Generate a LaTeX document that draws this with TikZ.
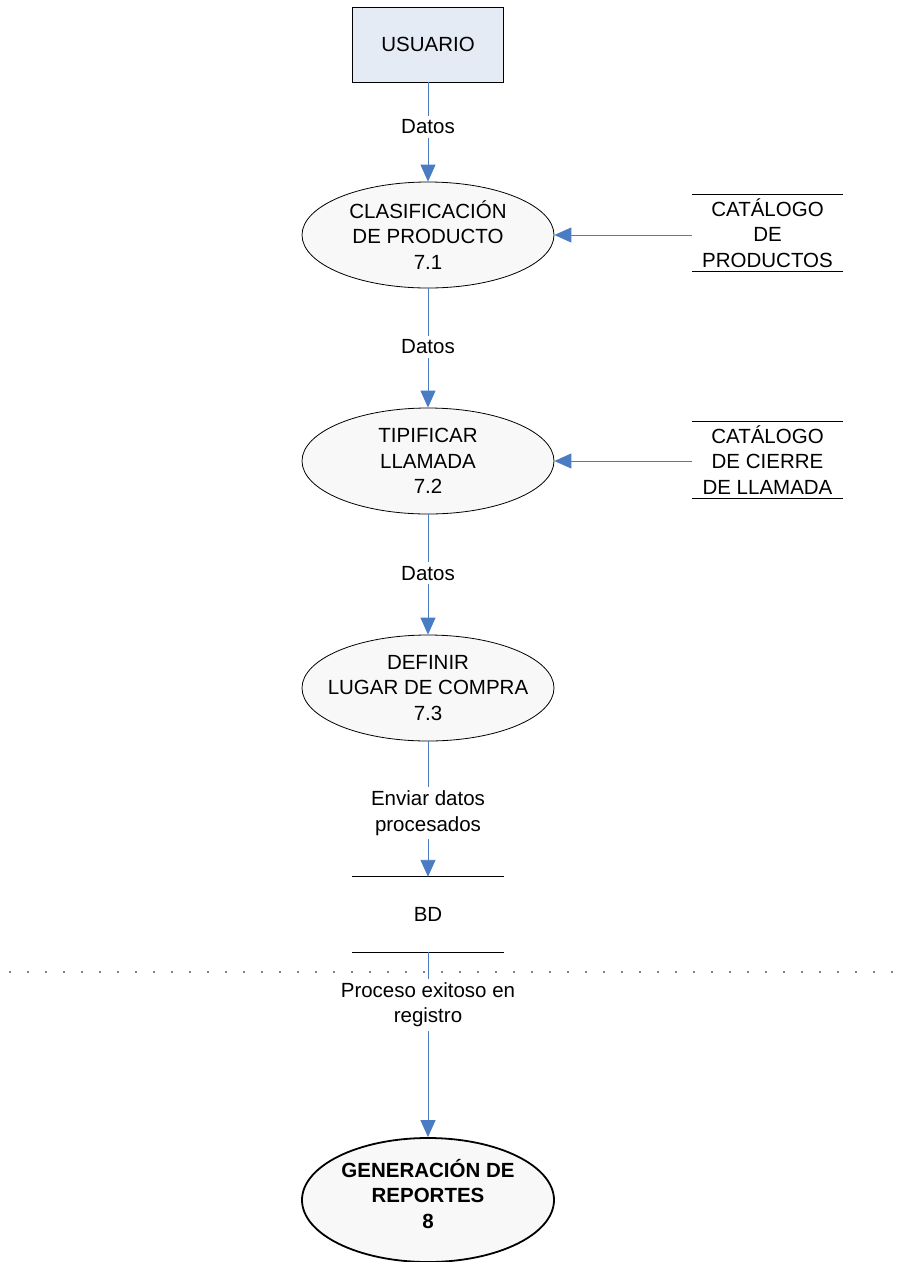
\documentclass[tikz,border=0pt]{standalone}
\usepackage{fontspec}
\setmainfont{Liberation Sans}
\usetikzlibrary{shapes.geometric,arrows.meta}
\definecolor{flowblue}{HTML}{4A7CC4}
\definecolor{boxblue}{HTML}{E5EBF5}
\definecolor{ellfill}{HTML}{F8F8F8}
\begin{document}
\begin{tikzpicture}[x=1pt,y=-1pt,
  every node/.style={font=\fontsize{20.5}{25.5}\selectfont},
  entity/.style={draw, fill=boxblue, minimum width=151pt, minimum height=75pt, inner sep=0pt, line width=0.8pt},
  proc/.style={ellipse, draw, fill=ellfill, minimum width=252pt, minimum height=106pt, inner sep=0pt, line width=0.8pt},
  ptext/.style={align=center, inner sep=0pt},
  store/.style={minimum width=151pt, minimum height=76pt, inner sep=0pt, align=center},
  flow/.style={draw=flowblue, line width=0.9pt, -{Triangle[width=15pt,length=17pt,fill=flowblue]}},
  lbl/.style={fill=white, inner sep=4pt, align=center, text=black},
  rule/.style={draw=black, line width=0.9pt}
]
\useasboundingbox (0,0) rectangle (897,1262);
\clip (0,0) rectangle (897,1262);

\node[entity] (u) at (428,44.5) {USUARIO};
\node[proc] (p1) at (428,235) {};
\node[ptext] (p1t) at (p1) {CLASIFICACIÓN\\DE PRODUCTO\\7.1};
\node[proc] (p2) at (428,461) {};
\node[ptext] (p2t) at (p2) {TIPIFICAR\\LLAMADA\\7.2};
\node[proc] (p3) at (428,688) {};
\node[ptext] (p3t) at (p3) {DEFINIR\\LUGAR DE COMPRA\\7.3};
\node[proc, line width=1.8pt, minimum height=124pt] (p4) at (428,1200) {};
\node[ptext, font=\fontsize{20.5}{25.5}\selectfont\bfseries] (p4t) at (428,1194) {GENERACIÓN DE\\REPORTES\\8};

\node[store] (c1) at (767.5,233) {CATÁLOGO\\DE\\PRODUCTOS};
\draw[rule] (c1.north west) -- (c1.north east);
\draw[rule] (c1.south west) -- (c1.south east);
\node[store] (c2) at (767.5,460) {CATÁLOGO\\DE CIERRE\\DE LLAMADA};
\draw[rule] (c2.north west) -- (c2.north east);
\draw[rule] (c2.south west) -- (c2.south east);

\node[store, minimum height=75pt] (bd) at (428,914.5) {BD};
\draw[rule] (bd.north west) -- (bd.north east);
\draw[rule] (bd.south west) -- (bd.south east);

\draw[flow] (u) -- node[lbl, pos=0.45] {Datos} (p1);
\draw[flow] (p1) -- node[lbl, pos=0.49] {Datos} (p2);
\draw[flow] (p2) -- node[lbl, pos=0.49] {Datos} (p3);
\draw[flow] (p3) -- node[lbl, pos=0.53] {Enviar datos\\procesados} (bd.north);
\draw[flow] (p1.east -| c1.west) -- (p1.east);
\draw[flow] (p2.east -| c2.west) -- (p2.east);

\coordinate (dl) at (10,972);
\coordinate (dr) at (897,972);
\draw[line width=1.8pt, line cap=round, dash pattern=on 0pt off 18pt] (dl) -- (dr);

\draw[flow] (bd.south) -- node[lbl, pos=0.285] {Proceso exitoso en\\registro} (p4.north);
\end{tikzpicture}
\end{document}
